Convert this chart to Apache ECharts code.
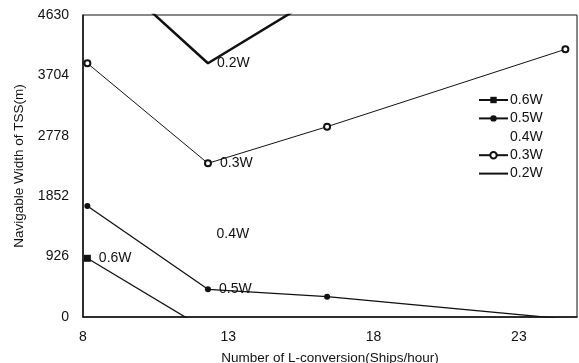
<!DOCTYPE html>
<html>
<head>
<meta charset="utf-8">
<script src="https://cdn.jsdelivr.net/npm/echarts@6/dist/echarts.min.js"></script>
<style>
html,body{margin:0;padding:0;background:#fff;}
#chart{width:579px;height:363px;}
</style>
</head>
<body>
<div id="chart"></div>
<script>
// Data
var xValues = [8.15, 12.3, 16.4, 24.6];
var w06 = [900, -210];
var w05 = [1702, 425, 311, -30];
var w04 = [null, 1270];
var w03 = [3890, 2356, 2918, 4104];
var w02 = [5570, 3890, 5000, 5800];
var yTicks = [0, 926, 1852, 2778, 3704, 4630];
var xTicks = [8, 13, 18, 23];
var seriesNames = ['0.6W', '0.5W', '0.4W', '0.3W', '0.2W'];
var labelIndex = [0, 1, 1, 1, 1]; // which point carries the series label

function pairs(vals, labelAt) {
  var out = [];
  for (var i = 0; i < vals.length; i++) {
    if (vals[i] === null) continue;
    var d = { value: [xValues[i], vals[i]] };
    if (i === labelAt) d.label = { show: true };
    out.push(d);
  }
  return out;
}

var FONT = 'Liberation Sans, Arial, sans-serif';
var INK = '#111';
var labelStyle = { show: false, position: 'right', distance: 8, formatter: '{a}', color: INK, fontSize: 14, fontFamily: FONT };
var hidden = 'rgba(0,0,0,0)';

var chart = echarts.init(document.getElementById('chart'));
chart.setOption({
  animation: false,
  backgroundColor: '#fff',
  grid: { left: 83, top: 15, right: 2, bottom: 46, show: true, borderColor: INK, borderWidth: 1,
          outerBoundsMode: 'none', containLabel: false },
  legend: {
    orient: 'vertical', left: 478, top: 93, padding: 0,
    itemWidth: 29, itemHeight: 8, itemGap: 4.4,
    textStyle: { fontSize: 14, fontFamily: FONT, color: INK, lineHeight: 14, padding: [0, 0, 0, -3] },
    data: [
      { name: '0.6W' },
      { name: '0.5W' },
      { name: '0.4W', itemStyle: { opacity: 0 }, lineStyle: { opacity: 0 } },
      { name: '0.3W' },
      { name: '0.2W', itemStyle: { opacity: 0 } }
    ]
  },
  xAxis: {
    type: 'value', min: 8, max: 25, interval: 5,
    name: 'Number of L-conversion(Ships/hour)', nameLocation: 'middle', nameGap: 34,
    nameTextStyle: { fontSize: 13.5, fontFamily: FONT, color: INK },
    axisLine: { lineStyle: { color: INK, width: 1.5 } },
    axisTick: { show: false },
    splitLine: { show: false },
    axisLabel: { fontSize: 14, fontFamily: FONT, color: INK, margin: 13,
      formatter: function (v) { return xTicks.indexOf(v) >= 0 ? String(v) : ''; } }
  },
  yAxis: {
    type: 'value', min: 0, max: 4630, interval: 926,
    name: 'Navigable Width of TSS(m)', nameLocation: 'middle', nameGap: 57,
    nameTextStyle: { fontSize: 13.5, fontFamily: FONT, color: INK },
    axisLine: { show: true, lineStyle: { color: INK, width: 1.5 } },
    axisTick: { show: false },
    splitLine: { show: false },
    axisLabel: { fontSize: 14, fontFamily: FONT, color: INK, margin: 14,
      formatter: function (v) { return yTicks.indexOf(v) >= 0 ? String(v) : ''; } }
  },
  series: [
    { name: seriesNames[0], type: 'line', clip: true, data: pairs(w06, labelIndex[0]),
      symbol: 'rect', symbolSize: 7, itemStyle: { color: INK },
      lineStyle: { color: INK, width: 1.3 }, label: labelStyle },
    { name: seriesNames[1], type: 'line', clip: true, data: pairs(w05, labelIndex[1]),
      symbol: 'circle', symbolSize: 6, itemStyle: { color: INK },
      lineStyle: { color: INK, width: 1.3 }, label: labelStyle },
    { name: seriesNames[2], type: 'line', clip: true, data: pairs(w04, labelIndex[2]),
      symbol: 'circle', symbolSize: 1, itemStyle: { color: hidden },
      lineStyle: { width: 0, opacity: 0 }, label: labelStyle },
    { name: seriesNames[3], type: 'line', clip: true, data: pairs(w03, labelIndex[3]),
      symbol: 'emptyCircle', symbolSize: 6, itemStyle: { color: INK, borderWidth: 1 },
      lineStyle: { color: INK, width: 1 }, label: labelStyle },
    { name: seriesNames[4], type: 'line', clip: true, data: pairs(w02, labelIndex[4]),
      symbol: 'circle', symbolSize: 2, itemStyle: { color: hidden },
      lineStyle: { color: INK, width: 2.5 }, label: labelStyle }
  ]
});
</script>
</body>
</html>
